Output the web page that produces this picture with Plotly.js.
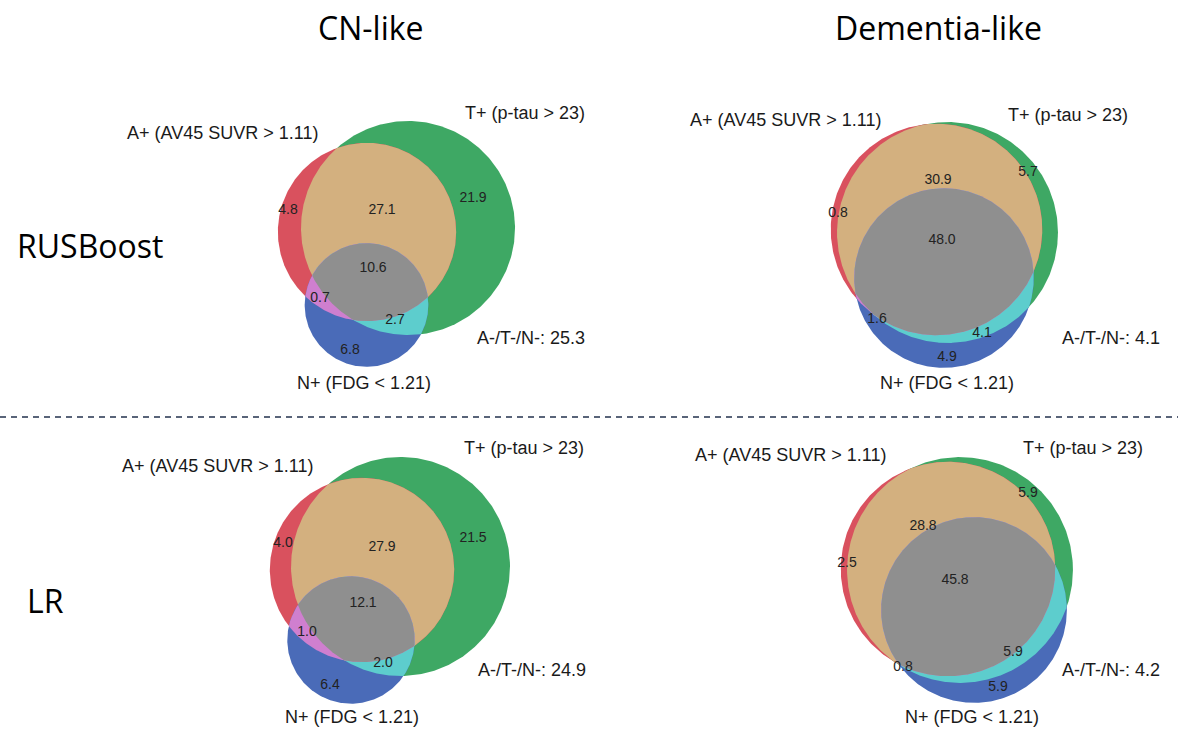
<!DOCTYPE html>
<html>
<head>
<meta charset="utf-8">
<script src="https://cdn.plot.ly/plotly-3.0.1.min.js"></script>
<style>html,body{margin:0;padding:0;background:#fff;}#chart{width:1178px;height:731px;}</style>
</head>
<body>
<div id="chart"></div>
<script>
// ---------------- DATA ----------------
// region order (matplotlib_venn): A only, T only, A&T, N only, A&N, T&N, A&T&N
const regionNames = ["A+ only", "T+ only", "A+T+", "N+ only", "A+N+", "T+N+", "A+T+N+"];
const columnTitles = ["CN-like", "Dementia-like"];
const rowTitles = ["RUSBoost", "LR"];
const setLabels = ["A+ (AV45 SUVR > 1.11)", "T+ (p-tau > 23)", "N+ (FDG < 1.21)"];
const rusboostCN = [4.8, 21.9, 27.1, 6.8, 0.7, 2.7, 10.6];
const rusboostDementia = [0.8, 5.7, 30.9, 4.9, 1.6, 4.1, 48.0];
const lrCN = [4.0, 21.5, 27.9, 6.4, 1.0, 2.0, 12.1];
const lrDementia = [2.5, 5.9, 28.8, 5.9, 0.8, 5.9, 45.8];
const noneValues = [25.3, 4.1, 24.9, 4.2]; // A-/T-/N- per panel
const panelValues = [rusboostCN, rusboostDementia, lrCN, lrDementia];

// ---------------- LAYOUT / STYLE (pixel frame) ----------------
const panelGeom = [
  {k: 13.56, A: [367, 232], T: [408, 228], N: [366.5, 305],
   lab: [[288,210],[473,198],[382,210],[350,350],[320,298],[395,320],[373,268]],
   aLab: [222,133], tLab: [525,113], nLab: [364,383], oLab: [531,338]},
  {k: 11.73, A: [936.5, 229.5], T: [947.5, 232.5], N: [944, 278],
   lab: [[838,213],[1028,172],[938,180],[947,357],[877,319],[982,333],[942,240]],
   aLab: [785,120], tLab: [1068,115], nLab: [947,383], oLab: [1111,338]},
  {k: 13.74, A: [362, 570], T: [400.5, 566.5], N: [351, 640],
   lab: [[283,543],[473,538],[382,547],[330,685],[307,632],[383,663],[363,603]],
   aLab: [217,466], tLab: [524,448], nLab: [352,717], oLab: [532,670]},
  {k: 12.15, A: [948, 569], T: [960, 570], N: [974, 610],
   lab: [[847,563],[1028,493],[923,526],[998,687],[903,667],[1013,652],[955,580]],
   aLab: [790,455], tLab: [1083,448], nLab: [972,717], oLab: [1111,670]}
];
const colors = {A: "#d9515e", T: "#3ea864", N: "#4a6bb8", AT: "#d3b07f", TN: "#5dcdcd", AN: "#cf7fcf", ATN: "#8f8f8f"};

// ---------------- GEOMETRY HELPERS ----------------
function circlePts(c, n) {
  const pts = [];
  for (let i = 0; i < n; i++) {
    const t = 2 * Math.PI * i / n;
    pts.push([c.x + c.r * Math.cos(t), c.y + c.r * Math.sin(t)]);
  }
  return pts;
}
function inside(p, c) { return Math.hypot(p[0] - c.x, p[1] - c.y) <= c.r + 1e-6; }
function intersection(circles) {
  let pts = [];
  circles.forEach((c, i) => {
    circlePts(c, 720).forEach(p => {
      if (circles.every((o, j) => j === i || inside(p, o))) pts.push(p);
    });
  });
  if (pts.length < 3) return null;
  const cx = pts.reduce((s, p) => s + p[0], 0) / pts.length;
  const cy = pts.reduce((s, p) => s + p[1], 0) / pts.length;
  pts.sort((a, b) => Math.atan2(a[1] - cy, a[0] - cx) - Math.atan2(b[1] - cy, b[0] - cx));
  return pts;
}
function polyTrace(pts, color) {
  const xs = pts.map(p => p[0]), ys = pts.map(p => p[1]);
  xs.push(xs[0]); ys.push(ys[0]);
  return {type: "scatter", mode: "lines", x: xs, y: ys, fill: "toself", fillcolor: color,
          line: {width: 0, color: color}, hoverinfo: "skip", showlegend: false};
}

// ---------------- BUILD ----------------
const traces = [];
const annotations = [];
const labelFont = {family: "Liberation Sans, Arial, sans-serif", size: 18, color: "#1a1a1a"};

panelValues.forEach((v, p) => {
  const g = panelGeom[p];
  const totA = v[0] + v[2] + v[4] + v[6];
  const totT = v[1] + v[2] + v[5] + v[6];
  const totN = v[3] + v[4] + v[5] + v[6];
  const A = {x: g.A[0], y: g.A[1], r: g.k * Math.sqrt(totA)};
  const T = {x: g.T[0], y: g.T[1], r: g.k * Math.sqrt(totT)};
  const N = {x: g.N[0], y: g.N[1], r: g.k * Math.sqrt(totN)};
  traces.push(polyTrace(circlePts(T, 360), colors.T));
  traces.push(polyTrace(circlePts(A, 360), colors.A));
  traces.push(polyTrace(circlePts(N, 360), colors.N));
  [[[A, T], colors.AT], [[T, N], colors.TN], [[A, N], colors.AN], [[A, T, N], colors.ATN]].forEach(([cs, col]) => {
    const pts = intersection(cs);
    if (pts) traces.push(polyTrace(pts, col));
  });
  traces.push({type: "scatter", mode: "text", x: g.lab.map(q => q[0]), y: g.lab.map(q => q[1]),
    text: v.map(x => x.toFixed(1)), textposition: "middle center",
    textfont: {family: "Liberation Sans, Arial, sans-serif", size: 14, color: "#222"},
    hoverinfo: "skip", showlegend: false});
  [[setLabels[0], g.aLab], [setLabels[1], g.tLab], [setLabels[2], g.nLab],
   ["A-/T-/N-: " + noneValues[p].toFixed(1), g.oLab]].forEach(([t, pos]) => {
    annotations.push({text: t, x: pos[0], y: pos[1], xref: "x", yref: "y", showarrow: false,
      xanchor: "center", yanchor: "middle", font: labelFont});
  });
});

const titleFont = {family: "Open Sans, Noto Sans, sans-serif", size: 32, color: "#000"};
annotations.push({text: columnTitles[0], x: 370, y: 27, xref: "x", yref: "y", showarrow: false, font: titleFont});
annotations.push({text: columnTitles[1], x: 938, y: 27, xref: "x", yref: "y", showarrow: false, font: titleFont});
annotations.push({text: rowTitles[0], x: 90, y: 245, xref: "x", yref: "y", showarrow: false, font: titleFont});
annotations.push({text: rowTitles[1], x: 45, y: 600, xref: "x", yref: "y", showarrow: false, font: titleFont});

const layout = {
  width: 1178, height: 731,
  margin: {l: 0, r: 0, t: 0, b: 0},
  paper_bgcolor: "#fff", plot_bgcolor: "#fff",
  xaxis: {range: [0, 1178], visible: false, fixedrange: true},
  yaxis: {range: [731, 0], visible: false, fixedrange: true},
  showlegend: false, hovermode: false,
  shapes: [{type: "line", xref: "x", yref: "y", x0: 0, x1: 1178, y0: 417, y1: 417,
            line: {color: "#596479", width: 2, dash: "6px,5px"}}],
  annotations: annotations
};
Plotly.newPlot("chart", traces, layout, {displayModeBar: false, staticPlot: true});
</script>
</body>
</html>
